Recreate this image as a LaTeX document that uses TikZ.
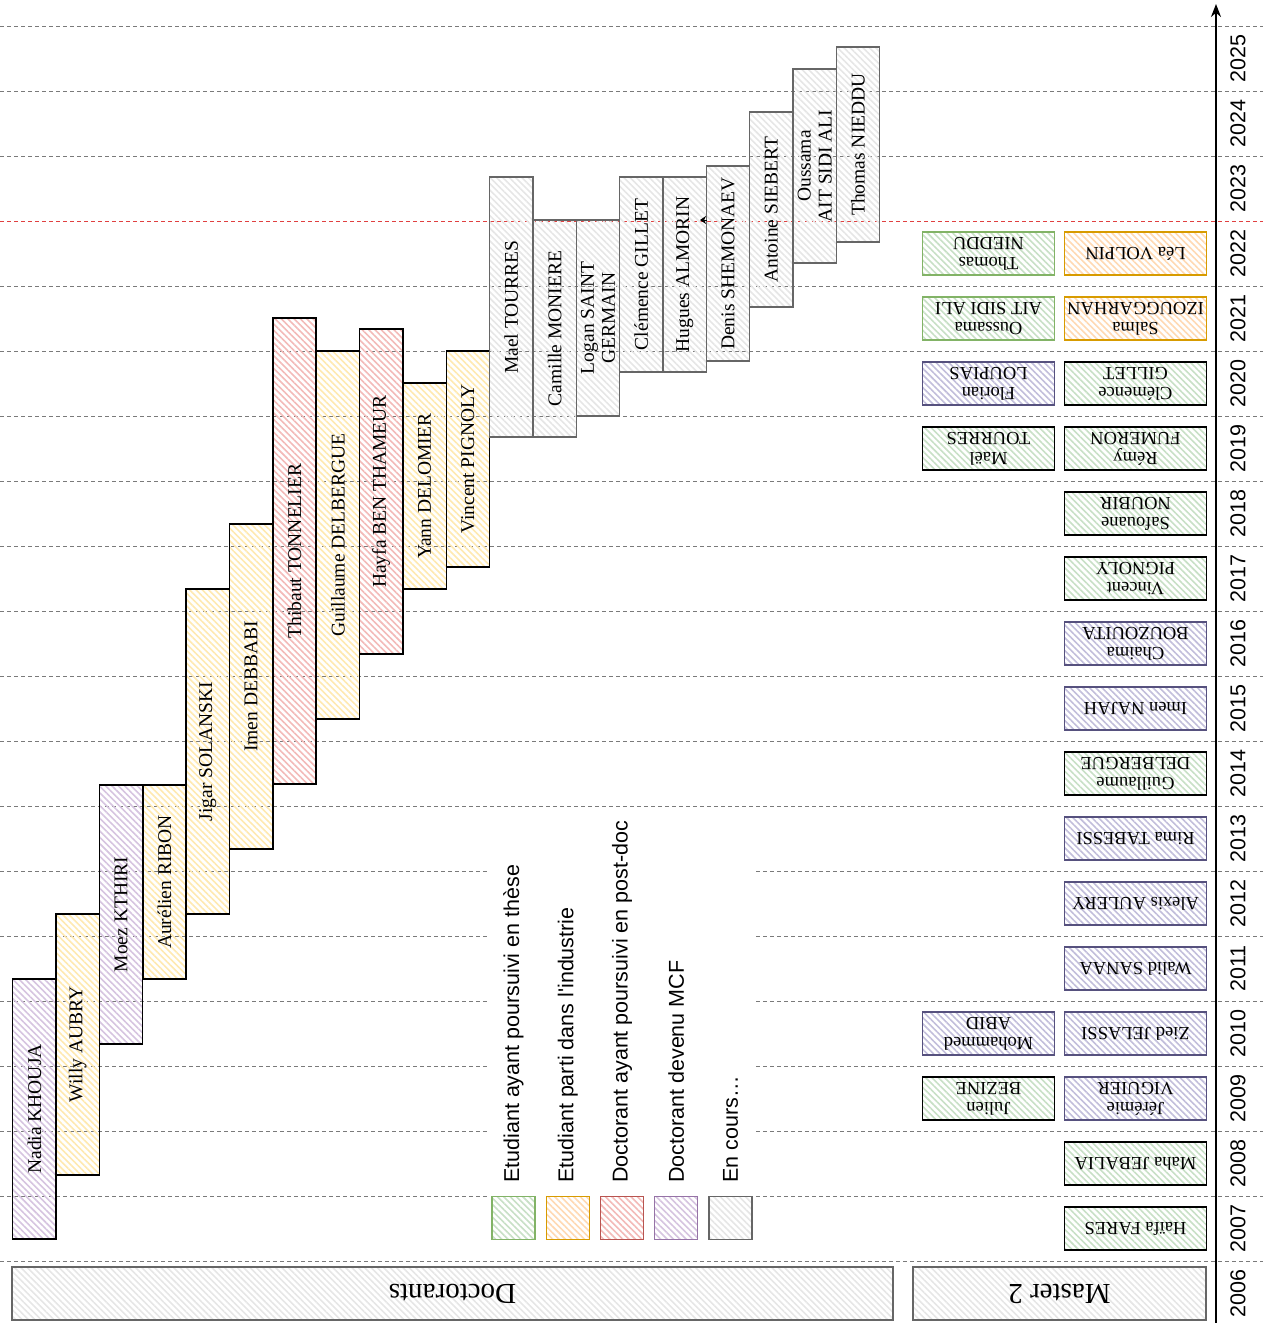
\documentclass[tikz,border=0pt]{standalone}
\usepackage{fontspec}
\setmainfont{Liberation Serif}
\setsansfont{Liberation Sans}
\usetikzlibrary{arrows.meta,patterns.meta}
\definecolor{purphatch}{HTML}{D6C4E0}
\definecolor{purpline}{HTML}{9673A6}
\definecolor{lavhatch}{HTML}{C2BEDB}
\definecolor{lavline}{HTML}{56517E}
\definecolor{yelhatch}{HTML}{FFE9B0}
\definecolor{orghatch}{HTML}{FFD9B3}
\definecolor{orgline}{HTML}{D79B00}
\definecolor{redhatch}{HTML}{F3BAB8}
\definecolor{redline}{HTML}{B85450}
\definecolor{grnhatch}{HTML}{C8E0C6}
\definecolor{grnline}{HTML}{82B366}
\definecolor{gryhatch}{HTML}{E6E6E6}
\definecolor{gryline}{HTML}{666666}
\definecolor{gridgray}{HTML}{7A7A7A}
\definecolor{gridred}{HTML}{E04040}
\tikzset{
  hatch/.style={pattern={Lines[angle=-45,distance=4.5pt,line width=1.6pt]},pattern color=#1},
  yearline/.style={gridgray,line width=1pt,dash pattern=on 3.5pt off 3.5pt},
  docbar/.style={draw=black,line width=1.4pt,rotate=90,minimum height=43.3pt,inner sep=0pt,
    align=center,font=\fontsize{19.5}{21}\selectfont},
  mcf/.style={hatch=purphatch},
  indus/.style={hatch=yelhatch},
  postdoc/.style={hatch=redhatch},
  encours/.style={hatch=gryhatch,draw=gryline},
  mastbox/.style={draw=black,line width=1.4pt,rotate=180,minimum height=43pt,inner sep=0pt,
    align=center,font=\fontsize{18.5}{20}\selectfont},
  mthese/.style={hatch=grnhatch},
  mgrn/.style={hatch=grnhatch,draw=grnline},
  mmcf/.style={hatch=lavhatch,draw=lavline},
  mindus/.style={hatch=orghatch,draw=orgline},
  headbox/.style={draw=gryline,line width=1.5pt,hatch=gryhatch,rotate=180,minimum height=53pt,
    font=\fontsize{29}{32}\selectfont},
  yearlbl/.style={rotate=90,font=\sffamily\fontsize{21.5}{24}\selectfont},
  legsq/.style={minimum width=43pt,minimum height=43pt,inner sep=0pt,line width=1.3pt},
  legtxt/.style={rotate=90,anchor=west,inner sep=0pt,font=\sffamily\fontsize{21.5}{24}\selectfont}
}
\newcommand{\docbar}[6]{%
  \pgfmathsetmacro{\cx}{34.4+43.35*#2}%
  \pgfmathsetmacro{\cy}{(#3+#4)/2}%
  \pgfmathsetmacro{\barlen}{#4-#3}%
  \node[docbar,#5,minimum width=\barlen pt] (#1) at (\cx,\cy) {#6};%
}
\newcommand{\mastR}[4]{%
  \pgfmathsetmacro{\cy}{1293.5-65*#2}%
  \node[mastbox,#3,minimum width=142pt] (#1) at (1135.5,\cy) {#4};%
}
\newcommand{\mastL}[4]{%
  \pgfmathsetmacro{\cy}{1293.5-65*#2}%
  \node[mastbox,#3,minimum width=132pt] (#1) at (988.5,\cy) {#4};%
}

\begin{document}
\begin{tikzpicture}[x=1pt,y=-1pt]
  \useasboundingbox (0,0) rectangle (1263,1323);
  \foreach \k in {0,...,15,17,18,19}
    \draw[yearline] (0,1261-65*\k) -- (1263,1261-65*\k);
  \draw[yearline,gridred] (0,221) -- (1263,221);

  \docbar{dnadia}{0}{979}{1239}{mcf}{Nadia KHOUJA}
  \docbar{dwilly}{1}{914}{1175}{indus}{Willy AUBRY}
  \docbar{dmoez}{2}{785}{1044}{mcf}{Moez KTHIRI}
  \docbar{daurelien}{3}{785}{979}{indus}{Aurélien RIBON}
  \docbar{djigar}{4}{589}{914}{indus}{Jigar SOLANSKI}
  \docbar{dimen}{5}{524}{849}{indus}{Imen DEBBABI}
  \docbar{dthibaut}{6}{318}{784}{postdoc}{Thibaut TONNELIER}
  \docbar{dguillaume}{7}{351}{719}{indus}{Guillaume DELBERGUE}
  \docbar{dhayfa}{8}{329}{654}{postdoc}{Hayfa BEN THAMEUR}
  \docbar{dyann}{9}{383}{589}{indus}{Yann DELOMIER}
  \docbar{dvincent}{10}{351}{567}{indus}{Vincent PIGNOLY}
  \docbar{dmael}{11}{177}{437}{encours}{Mael TOURRES}
  \docbar{dcamille}{12}{220}{437}{encours}{Camille MONIERE}
  \docbar{dlogan}{13}{220}{416}{encours}{Logan SAINT\\GERMAIN}
  \docbar{dclemence}{14}{177}{372}{encours}{Clémence GILLET}
  \docbar{dhugues}{15}{177}{372}{encours}{Hugues ALMORIN}
  \docbar{ddenis}{16}{166}{361}{encours}{Denis SHEMONAEV}
  \docbar{dantoine}{17}{112}{307}{encours}{Antoine SIEBERT}
  \docbar{doussama}{18}{69}{263}{encours}{Oussama\\AIT SIDI ALI}
  \docbar{dthomas}{19}{47}{242}{encours}{Thomas NIEDDU}

  \coordinate (hugtip) at (700,220);
  \draw[-{Stealth[length=6pt,width=8pt]},line width=0.8pt] (dhugues.south |- hugtip) -- (hugtip);

  \mastR{mfares}{1}{mthese}{Haïfa FARES}
  \mastR{mjebalia}{2}{mthese}{Maha JEBALIA}
  \mastR{mviguier}{3}{mmcf}{Jérémie\\VIGUIER}
  \mastL{mbezine}{3}{mthese}{Julien\\BEZINE}
  \mastR{mjelassi}{4}{mmcf}{Zied JELASSI}
  \mastL{mabid}{4}{mmcf}{Mohammed\\ABID}
  \mastR{msanaa}{5}{mmcf}{Walid SANAA}
  \mastR{maulery}{6}{mmcf}{Alexis AULERY}
  \mastR{mtabessi}{7}{mmcf}{Rima TABESSI}
  \mastR{mdelbergue}{8}{mthese}{Guillaume\\DELBERGUE}
  \mastR{mnajah}{9}{mmcf}{Imen NAJAH}
  \mastR{mbouzouita}{10}{mmcf}{Chaima\\BOUZOUITA}
  \mastR{mpignoly}{11}{mthese}{Vincent\\PIGNOLY}
  \mastR{mnoubir}{12}{mthese}{Safouane\\NOUBIR}
  \mastR{mfumeron}{13}{mthese}{Rémy\\FUMERON}
  \mastL{mtourres}{13}{mthese}{Maël\\TOURRES}
  \mastR{mgillet}{14}{mthese}{Clémence\\GILLET}
  \mastL{mloupias}{14}{mmcf}{Florian\\LOUPIAS}
  \mastR{mizouggarhan}{15}{mindus}{Salma\\IZOUGGARHAN}
  \mastL{maitsidiali}{15}{mgrn}{Oussama\\AIT SIDI ALI}
  \mastR{mvolpin}{16}{mindus}{Léa VOLPIN}
  \mastL{mnieddu}{16}{mgrn}{Thomas\\NIEDDU}

  \node[headbox,minimum width=881pt] (doctorants) at (452.5,1293.5) {Doctorants};
  \node[headbox,minimum width=293pt] (master) at (1059.5,1293.5) {Master 2};

  \fill[white] (487,812) rectangle (755,1252);
  \node[legsq,draw=grnline,hatch=grnhatch] (legthese) at (513.5,1218) {};
  \node[legsq,draw=orgline,hatch=orghatch] (legindus) at (567.8,1218) {};
  \node[legsq,draw=redline,hatch=redhatch] (legpostdoc) at (622,1218) {};
  \node[legsq,draw=purpline,hatch=purphatch] (legmcf) at (676.3,1218) {};
  \node[legsq,draw=gryline,hatch=gryhatch] (legencours) at (730.5,1218) {};
  \node[legtxt] (txthese) at (513.5,1183) {Etudiant ayant poursuivi en thèse};
  \node[legtxt] (txindus) at (567.8,1183) {Etudiant parti dans l\textquotesingle industrie};
  \node[legtxt] (txpostdoc) at (622,1183) {Doctorant ayant poursuivi en post-doc};
  \node[legtxt] (txmcf) at (676.3,1183) {Doctorant devenu MCF};
  \node[legtxt] (txencours) at (730.5,1183) {En cours…};

  \foreach \k [evaluate=\k as \yr using int(2006+\k)] in {0,...,19}
    \node[yearlbl] (yr\k) at (1238,1293.5-65*\k) {\yr};
  \coordinate (axisbot) at (1216,1323);
  \coordinate (axistop) at (1216,4);
  \draw[line width=1.8pt,-{Stealth[length=13pt,width=10pt]}] (axisbot) -- (axistop);
\end{tikzpicture}
\end{document}
